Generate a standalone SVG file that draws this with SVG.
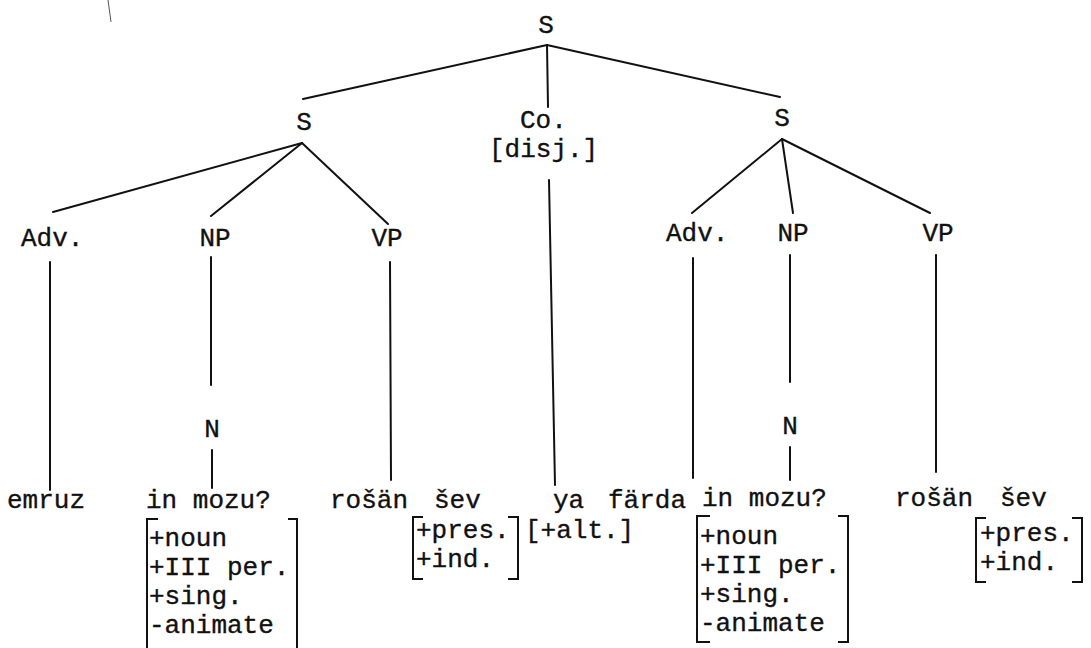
<svg xmlns="http://www.w3.org/2000/svg" width="1091" height="648" viewBox="0 0 1091 648">
<style>
text { font-family: "Liberation Mono", "Courier New", monospace; font-size: 26px; fill: #111; stroke: #111; stroke-width: 0.35; }
.c { text-anchor: middle; }
.ln { stroke: #111; stroke-width: 2; fill: none; stroke-linecap: round; }
.br { stroke: #111; stroke-width: 2; fill: none; }
</style>
<rect width="1091" height="648" fill="#fff"/>
<path d="M108 0 L111 22" stroke="#555" stroke-width="1" fill="none"/>
<g id="connectors" class="ln">
<path class="ln" d="M547 45 L303 99"/>
<path class="ln" d="M547 45 L548 107"/>
<path class="ln" d="M547 45 L780 97"/>
<path class="ln" d="M302 143 L53 212"/>
<path class="ln" d="M302 143 L211 216"/>
<path class="ln" d="M302 143 L388 224"/>
<path class="ln" d="M782 139 L692 213"/>
<path class="ln" d="M782 139 L793 213"/>
<path class="ln" d="M782 139 L930 213"/>
<path class="ln" d="M50 262 V490"/>
<path class="ln" d="M211 257 V385"/>
<path class="ln" d="M212 450 V488"/>
<path class="ln" d="M390 262 L391 480"/>
<path class="ln" d="M549 180 L555 485"/>
<path class="ln" d="M693 258 V478"/>
<path class="ln" d="M790 255 V382"/>
<path class="ln" d="M790 447 V480"/>
<path class="ln" d="M936 255 V472"/>
</g>
<g id="s-root"><text class="c" x="546" y="33">S</text></g>
<g id="s-left"><text class="c" x="304" y="130">S</text></g>
<g id="co"><text x="520" y="128">Co.</text><text x="489" y="157">[disj.]</text></g>
<g id="s-right"><text class="c" x="782" y="126">S</text></g>
<g id="adv-left"><text x="21" y="246">Adv.</text></g>
<g id="np-left"><text class="c" x="215" y="246">NP</text></g>
<g id="vp-left"><text class="c" x="387" y="246">VP</text></g>
<g id="adv-right"><text x="666" y="241">Adv.</text></g>
<g id="np-right"><text class="c" x="793" y="241">NP</text></g>
<g id="vp-right"><text class="c" x="938" y="241">VP</text></g>
<g id="n-left"><text class="c" x="212" y="437">N</text></g>
<g id="n-right"><text class="c" x="790" y="434">N</text></g>
<g id="emruz"><text x="7" y="508">emruz</text></g>
<g id="inmozu-left">
<text x="146" y="508">in mozu?</text>
<text x="149" y="546">+noun</text>
<text x="149" y="575">+III per.</text>
<text x="149" y="604">+sing.</text>
<text x="149" y="633">-animate</text>
<path class="br" d="M158 519 H147 V648"/>
<path class="br" d="M288 519 H297 V648"/>
</g>
<g id="rosan-left"><text x="330" y="508">rošän</text></g>
<g id="sev-left">
<text x="434" y="508">šev</text>
<text x="416" y="538">+pres.</text>
<text x="416" y="567">+ind.</text>
<path class="br" d="M423 517 H413 V579 H423"/>
<path class="br" d="M508 517 H518 V579 H508"/>
</g>
<g id="ya"><text x="553" y="508">ya</text><text x="525" y="538">[+alt.]</text></g>
<g id="farda"><text x="608" y="508">färda</text></g>
<g id="inmozu-right">
<text x="702" y="506">in mozu?</text>
<text x="700" y="544">+noun</text>
<text x="700" y="573">+III per.</text>
<text x="700" y="602">+sing.</text>
<text x="700" y="631">-animate</text>
<path class="br" d="M710 516 H697 V642 H710"/>
<path class="br" d="M838 516 H848 V642 H838"/>
</g>
<g id="rosan-right"><text x="895" y="506">rošän</text></g>
<g id="sev-right">
<text x="1000" y="506">šev</text>
<text x="980" y="541">+pres.</text>
<text x="980" y="570">+ind.</text>
<path class="br" d="M986 518 H976 V582 H986"/>
<path class="br" d="M1072 518 H1082 V582 H1072"/>
</g>
</svg>
